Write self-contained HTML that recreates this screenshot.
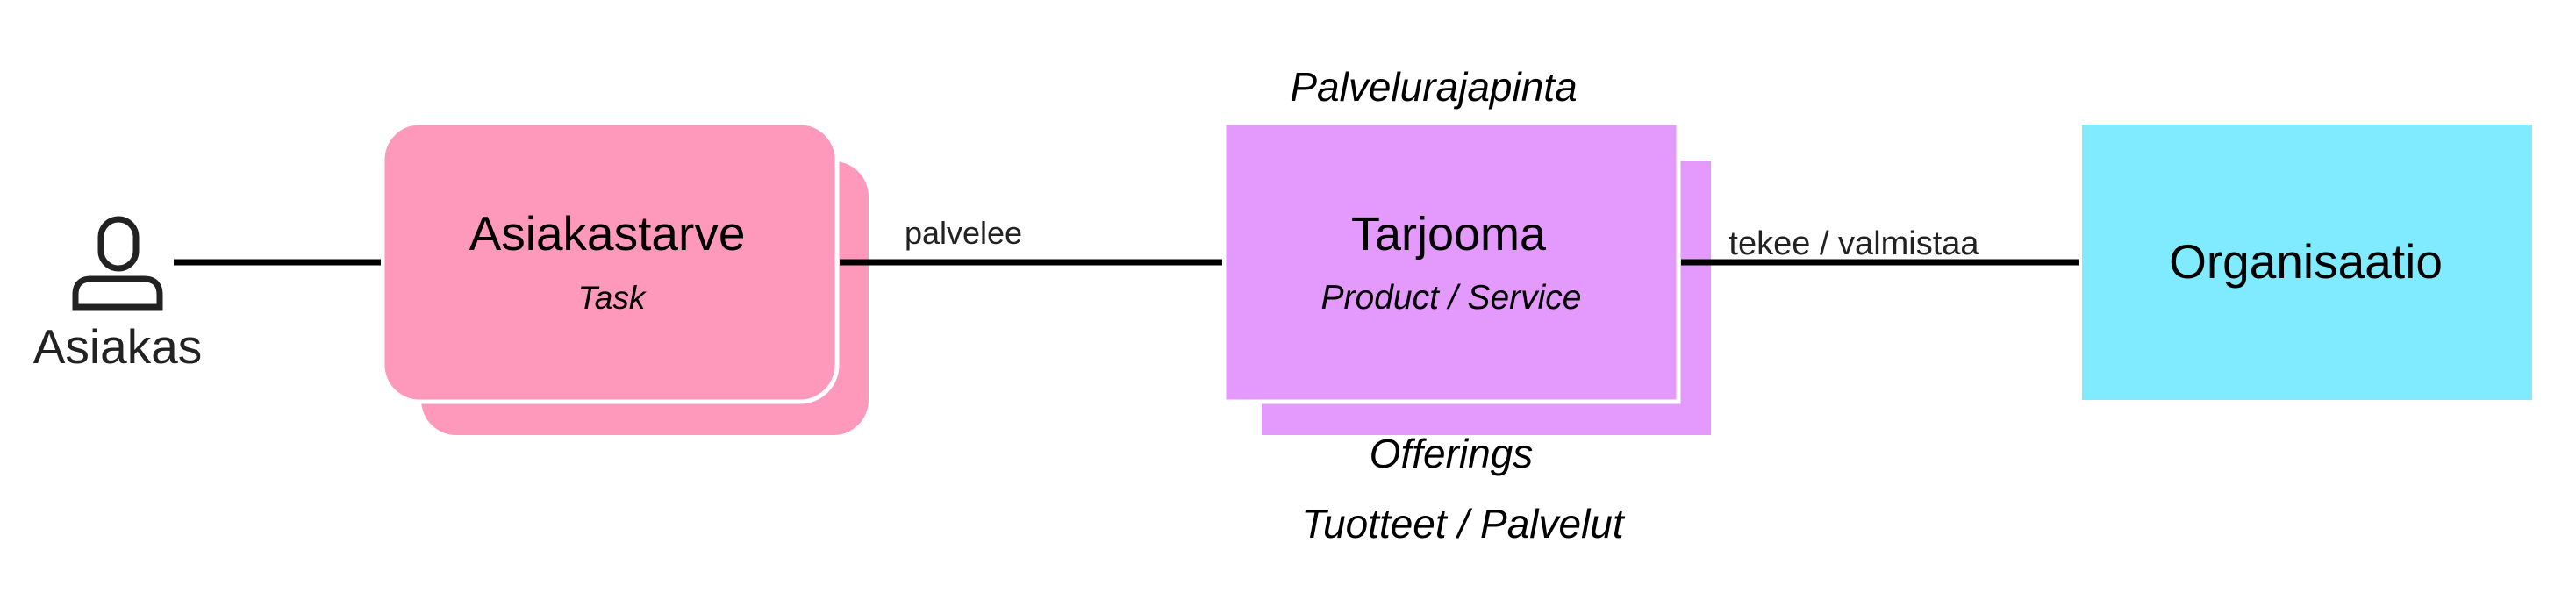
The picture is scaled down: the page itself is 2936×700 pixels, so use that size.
<!DOCTYPE html>
<html><head><meta charset="utf-8"><style>
html,body{margin:0;padding:0;background:#fff;}
svg{display:block;}
text{font-family:"Liberation Sans",Arial,sans-serif;}
</style></head><body>
<svg width="2936" height="700" viewBox="0 0 2936 700" xmlns="http://www.w3.org/2000/svg">
<rect width="2936" height="700" fill="#fff"/>
<!-- person -->
<rect x="115" y="250" width="40" height="56" rx="20" fill="none" stroke="#222" stroke-width="7"/>
<path d="M86 350 L86 336 Q86 318 104 318 L164 318 Q182 318 182 336 L182 350 Z" fill="none" stroke="#222" stroke-width="7"/>
<text x="134" y="414" font-size="55" fill="#222" text-anchor="middle">Asiakas</text>
<!-- pink -->
<rect x="480" y="184" width="510" height="312" rx="40" fill="#ff99bc"/>
<rect x="436" y="140" width="518" height="318" rx="42" fill="#ff99bc" stroke="#fff" stroke-width="5"/>
<text x="692" y="285" font-size="55" fill="#000" text-anchor="middle">Asiakastarve</text>
<text x="697" y="352" font-size="37" font-style="italic" fill="#000" text-anchor="middle">Task</text>
<text x="1098" y="278" font-size="36" fill="#222" text-anchor="middle">palvelee</text>
<!-- purple -->
<rect x="1438" y="183" width="512" height="313" fill="#e499fd"/>
<rect x="1395" y="140" width="518" height="318" fill="#e499fd" stroke="#fff" stroke-width="5"/>
<text x="1651" y="285" font-size="54" fill="#000" text-anchor="middle">Tarjooma</text>
<text x="1654" y="352" font-size="39" font-style="italic" fill="#000" text-anchor="middle">Product / Service</text>
<text x="1634" y="115" font-size="46" font-style="italic" fill="#000" text-anchor="middle">Palvelurajapinta</text>
<text x="1654" y="533" font-size="46" font-style="italic" fill="#000" text-anchor="middle">Offerings</text>
<text x="1667" y="613" font-size="46" font-style="italic" fill="#000" text-anchor="middle">Tuotteet / Palvelut</text>
<text x="2113" y="290" font-size="38" fill="#222" text-anchor="middle">tekee / valmistaa</text>
<!-- cyan -->
<rect x="2373" y="142" width="513" height="314" fill="#80eafe"/>
<text x="2628" y="317" font-size="55" fill="#000" text-anchor="middle">Organisaatio</text>
<!-- lines on top -->
<line x1="198" y1="299" x2="434" y2="299" stroke="#000" stroke-width="7"/>
<line x1="957" y1="299" x2="1393" y2="299" stroke="#000" stroke-width="7"/>
<line x1="1916" y1="299" x2="2370" y2="299" stroke="#000" stroke-width="7"/>
</svg>
</body></html>
